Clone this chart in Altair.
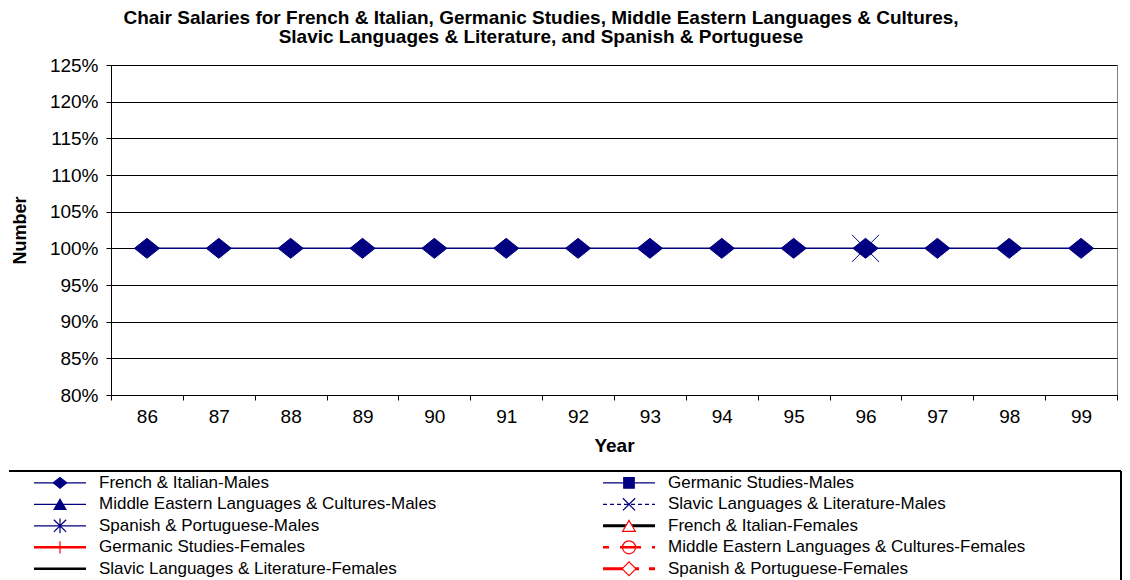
import altair as alt
import pandas as pd

# ---------------- data ----------------
years = ["86", "87", "88", "89", "90", "91", "92", "93", "94", "95", "96", "97", "98", "99"]

series_names = [
    "French & Italian-Males",
    "Germanic Studies-Males",
    "Middle Eastern Languages & Cultures-Males",
    "Slavic Languages & Literature-Males",
    "Spanish & Portuguese-Males",
    "French & Italian-Females",
    "Germanic Studies-Females",
    "Middle Eastern Languages & Cultures-Females",
    "Slavic Languages & Literature-Females",
    "Spanish & Portuguese-Females",
]

french_italian_m = [1.00, 1.00, 1.00, 1.00, 1.00, 1.00, 1.00, 1.00, 1.00, 1.00, 1.00, 1.00, 1.00, 1.00]
germanic_m = [None, None, None, None, None, None, None, None, None, None, None, None, None, None]
middle_eastern_m = [None, None, None, None, None, None, None, None, None, None, None, None, None, None]
slavic_m = [None, None, None, None, None, None, None, None, None, None, 1.00, None, None, None]
spanish_m = [None, None, None, None, None, None, None, None, None, None, None, None, None, None]
french_italian_f = [None, None, None, None, None, None, None, None, None, None, None, None, None, None]
germanic_f = [None, None, None, None, None, None, None, None, None, None, None, None, None, None]
middle_eastern_f = [None, None, None, None, None, None, None, None, None, None, None, None, None, None]
slavic_f = [None, None, None, None, None, None, None, None, None, None, None, None, None, None]
spanish_f = [None, None, None, None, None, None, None, None, None, None, None, None, None, None]

series_values = [french_italian_m, germanic_m, middle_eastern_m, slavic_m, spanish_m,
                 french_italian_f, germanic_f, middle_eastern_f, slavic_f, spanish_f]

y_ticks = [0.80, 0.85, 0.90, 0.95, 1.00, 1.05, 1.10, 1.15, 1.20, 1.25]

title_lines = [
    "Chair Salaries for French & Italian, Germanic Studies, Middle Eastern Languages & Cultures,",
    "Slavic Languages & Literature, and Spanish & Portuguese",
]

# ---------------- styles ----------------
NAVY = "#000080"
RED = "#FF0000"
BLACK = "#000000"

DIAMOND = "M-1,0L0,-0.8L1,0L0,0.8Z"
XMARK = "M-1,-1L1,1M1,-1L-1,1"
ASTER = "M-1,-1L1,1M1,-1L-1,1M0,-1.2L0,1.2"
PLUS = "M-1,0L1,0M0,-1L0,1"

line_colors = [NAVY, NAVY, NAVY, NAVY, NAVY, BLACK, RED, RED, BLACK, RED]
line_widths = [1.2, 1.2, 1.2, 1.2, 1.2, 3, 2.5, 2.5, 2.5, 3]
line_dashes = [[1, 0], [1, 0], [1, 0], [4, 3], [1, 0], [1, 0], [1, 0], [6, 11, 21, 11], [1, 0], [36, 10]]
marker_shapes = [DIAMOND, "square", "triangle-up", XMARK, ASTER, "triangle-up", PLUS, "circle", "circle", "diamond"]
marker_fills = [NAVY, NAVY, NAVY, "transparent", "transparent", "white", "transparent", "transparent", "transparent", "white"]
marker_strokes = [NAVY, NAVY, NAVY, NAVY, NAVY, RED, RED, RED, "transparent", RED]
legend_sizes = [180, 110, 140, 150, 150, 160, 150, 170, 0, 190]
main_sizes = [625, 300, 300, 729, 400, 300, 300, 300, 0, 300]

# ---------------- main chart ----------------
rows = []
for name, vals, msize in zip(series_names, series_values, main_sizes):
    for yr, v in zip(years, vals):
        if v is not None:
            rows.append({"year": yr, "series": name, "value": v, "msize": msize})
df = pd.DataFrame(rows)

PLOT_W = 1006
PLOT_H = 330
FONT_LABEL = 19

x_enc = alt.X(
    "year:O",
    sort=years,
    scale=alt.Scale(type="band", domain=years, paddingInner=0, paddingOuter=0),
    axis=alt.Axis(
        title="Year", titleFontSize=19, titleFontWeight="bold", titlePadding=10,
        labelAngle=0, labelFontSize=FONT_LABEL, labelPadding=7, labelColor=BLACK,
        tickBand="extent", tickSize=5, tickColor=BLACK, domainColor=BLACK,
        grid=False, titleColor=BLACK,
    ),
)
y_enc = alt.Y(
    "value:Q",
    scale=alt.Scale(domain=[0.80, 1.25], nice=False, zero=False),
    axis=alt.Axis(
        values=y_ticks, format=".0%", title="Number", titleFontSize=18,
        titleFontWeight="bold", titleX=-82, titleColor=BLACK,
        labelFontSize=FONT_LABEL, labelPadding=8, labelColor=BLACK,
        tickSize=5, tickColor=BLACK, domainColor=BLACK,
        grid=True, gridColor=BLACK, gridWidth=1,
    ),
)

color_sc = alt.Scale(domain=series_names, range=line_colors)
dash_sc = alt.Scale(domain=series_names, range=line_dashes)
shape_sc = alt.Scale(domain=series_names, range=marker_shapes)
fill_sc = alt.Scale(domain=series_names, range=marker_fills)
stroke_sc = alt.Scale(domain=series_names, range=marker_strokes)

lines = alt.Chart(df).mark_line(strokeWidth=1.5).encode(
    x=x_enc, y=y_enc,
    color=alt.Color("series:N", scale=color_sc, legend=None),
    strokeDash=alt.StrokeDash("series:N", scale=dash_sc, legend=None),
    detail="series:N",
)

points = alt.Chart(df).mark_point(opacity=1, strokeWidth=1).encode(
    x=x_enc, y=y_enc,
    shape=alt.Shape("series:N", scale=shape_sc, legend=None),
    fill=alt.Fill("series:N", scale=fill_sc, legend=None),
    stroke=alt.Stroke("series:N", scale=stroke_sc, legend=None),
    size=alt.Size("msize:Q", scale=None),
)

main = alt.layer(lines, points).properties(
    width=PLOT_W, height=PLOT_H,
    view=alt.ViewBackground(stroke="#808080", strokeWidth=1),
)

# ---------------- legend (custom, two columns) ----------------
LEG_LEFT = -102          # legend box left edge relative to the plot's left edge
LEG_W = 1010             # from plot left to the legend's right border
ROW_H = 21.5
LEG_H = 120
COL_STEP = 569

leg = pd.DataFrame({
    "name": series_names,
    "col": [i % 2 for i in range(len(series_names))],
    "row": [i // 2 for i in range(len(series_names))],
    "msize": legend_sizes,
    "lwidth": line_widths,
})
leg["x0"] = LEG_LEFT + leg["col"] * COL_STEP + 25
leg["x1"] = LEG_LEFT + leg["col"] * COL_STEP + 77
leg["xm"] = LEG_LEFT + leg["col"] * COL_STEP + 51
leg["xt"] = LEG_LEFT + leg["col"] * COL_STEP + 90
leg["ypos"] = leg["row"] + 0.55

lx = alt.Scale(domain=[0, LEG_W], nice=False, zero=False)
ly = alt.Scale(domain=[0, LEG_H / ROW_H], nice=False, zero=False, reverse=True)

leg_lines = alt.Chart(leg).mark_rule().encode(
    x=alt.X("x0:Q", scale=lx, axis=None),
    x2="x1:Q",
    y=alt.Y("ypos:Q", scale=ly, axis=None),
    color=alt.Color("name:N", scale=color_sc, legend=None),
    strokeDash=alt.StrokeDash("name:N", scale=dash_sc, legend=None),
    strokeWidth=alt.StrokeWidth("lwidth:Q", scale=None),
)
leg_points = alt.Chart(leg).mark_point(opacity=1, strokeWidth=1.2).encode(
    x=alt.X("xm:Q", scale=lx, axis=None),
    y=alt.Y("ypos:Q", scale=ly, axis=None),
    shape=alt.Shape("name:N", scale=shape_sc, legend=None),
    fill=alt.Fill("name:N", scale=fill_sc, legend=None),
    stroke=alt.Stroke("name:N", scale=stroke_sc, legend=None),
    size=alt.Size("msize:Q", scale=None),
)
leg_text = alt.Chart(leg).mark_text(align="left", baseline="middle", fontSize=17, color=BLACK).encode(
    x=alt.X("xt:Q", scale=lx, axis=None),
    y=alt.Y("ypos:Q", scale=ly, axis=None),
    text="name:N",
)
border_top = alt.Chart(leg).mark_rule(color=BLACK, strokeWidth=1).encode(
    x=alt.value(LEG_LEFT), x2=alt.value(LEG_W), y=alt.value(0)
)
border_right = alt.Chart(leg).mark_rule(color=BLACK, strokeWidth=1).encode(
    x=alt.value(LEG_W), y=alt.value(0), y2=alt.value(LEG_H)
)

legend_chart = alt.layer(border_top, border_right, leg_lines, leg_points, leg_text).properties(
    width=LEG_W, height=LEG_H,
    view=alt.ViewBackground(stroke="transparent"),
)

chart = alt.vconcat(main, legend_chart, spacing=14).properties(
    title=alt.TitleParams(
        text=title_lines, fontSize=19, fontWeight="bold", anchor="middle",
        lineHeight=19, offset=9, dx=-24, color=BLACK,
    ),
    padding={"left": 0, "top": 0, "right": 0, "bottom": 0},
).configure(font="Liberation Sans")

chart.save("out.html", embed_options={"renderer": "svg", "actions": False})
